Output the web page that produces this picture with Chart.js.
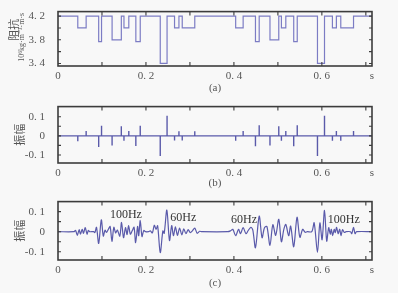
<!DOCTYPE html>
<html>
<head>
<meta charset="utf-8">
<script src="https://cdn.jsdelivr.net/npm/chart.js@4.4.0/dist/chart.umd.min.js"></script>
<style>
  html, body { margin: 0; padding: 0; background: #f8f8f8; }
  #wrap { position: relative; width: 398px; height: 293px; }
  canvas { position: absolute; left: 0; }
</style>
</head>
<body>
<div id="wrap">
  <canvas id="chartA" width="398" height="95" style="top:0px"></canvas>
  <canvas id="chartB" width="398" height="95" style="top:95px"></canvas>
  <canvas id="chartC" width="398" height="103" style="top:190px"></canvas>
</div>
<script>
// shared time axis
const xTickValues = [0, 0.1, 0.2, 0.3, 0.4, 0.5, 0.6, 0.7, 0.714];
const xTickLabels = ['0', '', '0. 2', '', '0. 4', '', '0. 6', '', 's'];

// (a) impedance, step function: level holds from time[i] to time[i+1]
const impTimes = [0, 0.045, 0.064, 0.0925, 0.099, 0.123, 0.144, 0.150, 0.161, 0.177, 0.187,
  0.2325, 0.248, 0.265, 0.275, 0.2825, 0.311, 0.404, 0.421, 0.449, 0.4575, 0.482, 0.502,
  0.508, 0.518, 0.536, 0.544, 0.590, 0.606, 0.624, 0.633, 0.643, 0.672, 0.714];
const impValues = [4.2, 4.0, 4.2, 3.77, 4.2, 3.8, 4.2, 4.0, 4.2, 3.77, 4.2,
  3.4, 4.2, 4.0, 4.2, 4.0, 4.2, 4.0, 4.2, 3.77, 4.2, 3.8, 4.2,
  4.0, 4.2, 3.77, 4.2, 3.4, 4.2, 4.0, 4.2, 4.0, 4.2, 4.2];
const impTickValues = [3.4, 3.6, 3.8, 4.0, 4.2];
const impTickLabels = ['3. 4', '', '3. 8', '', '4. 2'];

// (b) reflection coefficients
const spikeTimes = [0.045, 0.064, 0.0925, 0.099, 0.123, 0.144, 0.150, 0.161, 0.177, 0.187,
  0.2325, 0.248, 0.265, 0.275, 0.2825, 0.311, 0.404, 0.421, 0.449, 0.4575, 0.482, 0.502,
  0.508, 0.518, 0.536, 0.544, 0.590, 0.606, 0.624, 0.633, 0.643, 0.672];
const spikeAmps = [-0.028, 0.025, -0.058, 0.053, -0.05, 0.05, -0.025, 0.025, -0.053, 0.053,
  -0.105, 0.105, -0.024, 0.024, -0.024, 0.024, -0.025, 0.025, -0.055, 0.055, -0.05, 0.05,
  -0.025, 0.025, -0.055, 0.055, -0.105, 0.105, -0.025, 0.025, -0.025, 0.025];
const ampTickValues = [-0.1, -0.05, 0, 0.05, 0.1];
const ampTickLabels = ['-0. 1', '', '0', '', '0. 1'];

// (c) synthetic trace
const traceTimes = [0, 0.036, 0.040, 0.044, 0.048, 0.051, 0.055, 0.058, 0.062, 0.066, 0.069, 0.072,
  0.081, 0.084, 0.0875, 0.0925, 0.0985, 0.103, 0.107, 0.110, 0.1145, 0.1185, 0.1227, 0.127,
  0.131, 0.135, 0.1405, 0.1445, 0.149, 0.1535, 0.157, 0.1605, 0.1645, 0.169, 0.173, 0.1765,
  0.181, 0.1835, 0.187, 0.191, 0.195, 0.199,
  0.206, 0.210, 0.2145, 0.219, 0.223, 0.2265, 0.2325, 0.2385, 0.2415, 0.2475, 0.2535, 0.2585,
  0.2625, 0.267, 0.2715, 0.2765, 0.2815, 0.286, 0.291, 0.296, 0.301, 0.3055, 0.311, 0.3165,
  0.322, 0.327,
  0.386, 0.392, 0.3975, 0.404, 0.4105, 0.415, 0.421, 0.4275, 0.4325, 0.4385, 0.443, 0.449,
  0.4575, 0.464, 0.4695, 0.475, 0.482, 0.4885, 0.495, 0.502, 0.508, 0.5135, 0.518, 0.5245,
  0.529, 0.536, 0.5435, 0.55, 0.5565, 0.562, 0.567,
  0.577, 0.5825, 0.590, 0.5955, 0.6005, 0.606, 0.611, 0.6155, 0.619, 0.6215, 0.6245, 0.628,
  0.6305, 0.6335, 0.637, 0.6405, 0.6435, 0.647, 0.651, 0.655, 0.665, 0.668, 0.672, 0.6755,
  0.679, 0.714];
const traceAmps = [0, 0, 0.006, -0.018, 0.01, -0.012, 0.012, -0.008, 0.02, -0.012, 0.006, 0,
  0, -0.004, 0.022, -0.058, 0.059, -0.022, 0.008, -0.004, 0.012, 0.026, -0.048, 0.022,
  -0.006, 0.008, -0.022, 0.046, -0.03, 0.02, -0.014, 0.03, -0.012, 0.006, 0.022, -0.055,
  0.026, -0.02, 0.056, -0.024, 0.006, 0,
  0, 0.004, -0.006, 0.032, 0.012, 0.03, -0.104, 0.004, -0.008, 0.108, -0.044, 0.03,
  -0.02, 0.024, -0.018, 0.018, -0.016, 0.014, -0.01, 0.01, -0.005, 0.004, 0.018, -0.008,
  0.002, 0,
  0, 0.004, 0.012, -0.02, 0.012, -0.01, 0.02, -0.01, 0.006, 0.022, 0.008, -0.08,
  0.078, -0.03, 0.02, 0.026, -0.068, 0.035, -0.018, 0.062, -0.05, 0.012, 0.036, -0.02,
  0.028, -0.075, 0.072, -0.028, 0.012, -0.003, 0,
  0, 0.044, -0.103, 0.044, -0.04, 0.106, -0.047, 0.02, -0.012, 0.012, -0.02, 0.012,
  -0.004, 0.022, -0.01, 0.012, -0.02, 0.01, -0.004, 0, 0, -0.01, 0.022, -0.01,
  0, 0];
const noteTexts = ['100Hz', '60Hz', '60Hz', '100Hz'];
const noteTimes = [0.1545, 0.285, 0.423, 0.65];
const noteAmps = [0.083, 0.068, 0.059, 0.059];

const lineColor = '#5a5aaa';
const frameColor = '#3c3c3c';
const labelColor = '#555555';
const serif = '"Liberation Serif", "DejaVu Serif", serif';
const cjk = '"Noto Sans CJK SC", sans-serif';

// box with inward ticks on all four sides
const framePlugin = {
  id: 'frame',
  afterDraw(chart) {
    const { ctx, chartArea: a, scales } = chart;
    ctx.save();
    ctx.strokeStyle = frameColor;
    ctx.lineWidth = 1.1;
    ctx.beginPath();
    scales.x.ticks.forEach(t => {
      if (t.value <= scales.x.min || t.value >= 0.705) return;
      const px = scales.x.getPixelForValue(t.value);
      ctx.moveTo(px, a.bottom); ctx.lineTo(px, a.bottom - 4);
      ctx.moveTo(px, a.top); ctx.lineTo(px, a.top + 4);
    });
    scales.y.ticks.forEach(t => {
      const py = scales.y.getPixelForValue(t.value);
      ctx.moveTo(a.left, py); ctx.lineTo(a.left + 3, py);
      ctx.moveTo(a.right, py); ctx.lineTo(a.right - 3, py);
    });
    ctx.stroke();
    ctx.lineWidth = 1.6;
    ctx.strokeRect(a.left, a.top, a.right - a.left, a.bottom - a.top);
    ctx.restore();
  }
};

function yTitle(lines) {
  return {
    id: 'ytitle',
    afterDraw(chart) {
      const ctx = chart.ctx;
      const a = chart.chartArea;
      const cy = (a.top + a.bottom) / 2;
      ctx.save();
      ctx.fillStyle = labelColor;
      ctx.textAlign = 'center';
      ctx.textBaseline = 'middle';
      lines.forEach(l => {
        ctx.save();
        ctx.translate(l.x, cy + (l.dy || 0));
        ctx.rotate(-Math.PI / 2);
        ctx.font = l.font;
        ctx.fillText(l.text, 0, 0);
        ctx.restore();
      });
      ctx.restore();
    }
  };
}

function xScale(title, height) {
  return {
    type: 'linear',
    min: 0,
    max: 0.714,
    afterBuildTicks: s => { s.ticks = xTickValues.map(v => ({ value: v })); },
    afterFit: s => { s.height = height; },
    grid: { display: false },
    border: { display: false },
    ticks: {
      autoSkip: false,
      maxRotation: 0,
      padding: -4,
      color: labelColor,
      font: { family: serif, size: 11 },
      callback: (v, i) => xTickLabels[i]
    },
    title: {
      display: true,
      text: title,
      color: labelColor,
      font: { family: serif, size: 11 },
      padding: { top: 0, bottom: title === '(c)' ? 3 : 0 }
    }
  };
}

function yScale(min, max, values, labels) {
  return {
    min: min,
    max: max,
    afterBuildTicks: s => { s.ticks = values.map(v => ({ value: v })); },
    afterFit: s => { s.width = 58; },
    grid: { display: false },
    border: { display: false },
    ticks: {
      autoSkip: false,
      padding: 5,
      color: labelColor,
      font: { family: serif, size: 11 },
      callback: (v, i) => labels[i]
    }
  };
}

const common = {
  responsive: false,
  animation: false,
  plugins: { legend: { display: false }, tooltip: { enabled: false } }
};

// (a)
new Chart(document.getElementById('chartA'), {
  type: 'line',
  data: {
    datasets: [{
      data: impTimes.map((t, i) => ({ x: t, y: impValues[i] })),
      stepped: 'before',
      borderColor: '#7c7cc4',
      borderWidth: 1.2,
      pointRadius: 0
    }]
  },
  options: {
    ...common,
    layout: { padding: { top: 9, right: 26, left: 0, bottom: 0 } },
    scales: {
      x: xScale('(a)', 29),
      y: yScale(3.357, 4.276, impTickValues, impTickLabels)
    }
  },
  plugins: [framePlugin, yTitle([
    { text: '阻抗', x: 13.5, dy: -9, font: '11px ' + cjk },
    { text: '10⁶kg·m⁻³·m·s', x: 21.5, dy: -1.5, font: '8px ' + serif }
  ])]
});

// (b)
const spikePoints = [{ x: 0, y: 0 }];
spikeTimes.forEach((t, i) => {
  spikePoints.push({ x: t, y: 0 }, { x: t, y: spikeAmps[i] }, { x: t, y: 0 });
});
spikePoints.push({ x: 0.714, y: 0 });

new Chart(document.getElementById('chartB'), {
  type: 'line',
  data: {
    datasets: [{
      data: spikePoints,
      borderColor: lineColor,
      borderWidth: 1.4,
      pointRadius: 0
    }]
  },
  options: {
    ...common,
    layout: { padding: { top: 7, right: 26, left: 0, bottom: 0 } },
    scales: {
      x: xScale('(b)', 27),
      y: yScale(-0.142, 0.153, ampTickValues, ampTickLabels)
    }
  },
  plugins: [framePlugin, yTitle([{ text: '振幅', x: 20, dy: 0, font: '11px ' + cjk }])]
});

// (c)
const notePlugin = {
  id: 'notes',
  afterDatasetsDraw(chart) {
    const { ctx, scales } = chart;
    ctx.save();
    ctx.fillStyle = '#333333';
    ctx.font = '12px ' + serif;
    ctx.textAlign = 'center';
    ctx.textBaseline = 'middle';
    noteTexts.forEach((s, i) => {
      ctx.fillText(s, scales.x.getPixelForValue(noteTimes[i]), scales.y.getPixelForValue(noteAmps[i]));
    });
    ctx.restore();
  }
};

new Chart(document.getElementById('chartC'), {
  type: 'line',
  data: {
    datasets: [{
      data: traceTimes.map((t, i) => ({ x: t, y: traceAmps[i] })),
      borderColor: lineColor,
      borderWidth: 1.2,
      tension: 0.3,
      pointRadius: 0
    }]
  },
  options: {
    ...common,
    layout: { padding: { top: 6, right: 26, left: 0, bottom: 0 } },
    scales: {
      x: xScale('(c)', 33),
      y: yScale(-0.141, 0.15, ampTickValues, ampTickLabels)
    }
  },
  plugins: [framePlugin, notePlugin, yTitle([{ text: '振幅', x: 20, dy: 0, font: '11px ' + cjk }])]
});
</script>
</body>
</html>
